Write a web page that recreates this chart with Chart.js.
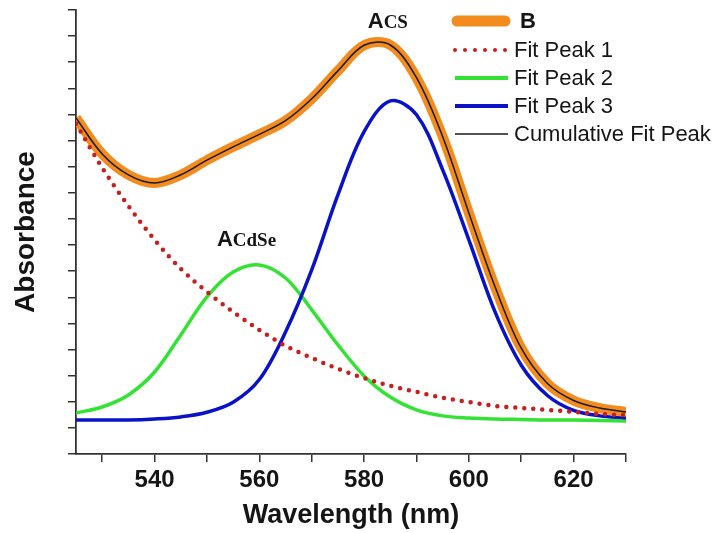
<!DOCTYPE html>
<html>
<head>
<meta charset="utf-8">
<script src="https://cdn.jsdelivr.net/npm/chart.js@4.4.1/dist/chart.umd.min.js"></script>
<style>
  html, body { margin: 0; padding: 0; background: #fff; }
  #wrap { width: 723px; height: 533px; }
</style>
</head>
<body>
<div id="wrap"><canvas id="absorbance-chart" width="723" height="533"></canvas></div>
<script>
// wavelength grid (nm) and values (arbitrary absorbance units)
const wavelengths = [525, 530, 535, 540, 545, 550, 555, 560, 565, 570, 575, 580, 585, 590, 595, 600, 605, 610, 615, 620, 625, 630];
const sampleB = [12.87, 11.49, 10.69, 10.38, 10.69, 11.25, 11.76, 12.24, 12.76, 13.60, 14.67, 15.65, 15.66, 14.41, 12.15, 9.23, 6.40, 4.05, 2.70, 2.05, 1.76, 1.61];
const fitPeak1 = [12.64, 10.96, 9.50, 8.20, 7.09, 6.21, 5.44, 4.75, 4.14, 3.68, 3.26, 2.91, 2.61, 2.38, 2.15, 1.99, 1.84, 1.76, 1.69, 1.61, 1.53, 1.49];
const fitPeak2 = [1.57, 1.80, 2.26, 3.14, 4.56, 6.02, 6.97, 7.24, 6.74, 5.52, 4.18, 2.99, 2.18, 1.69, 1.46, 1.38, 1.34, 1.32, 1.30, 1.30, 1.28, 1.26];
const fitPeak3 = [1.30, 1.30, 1.30, 1.34, 1.42, 1.60, 1.98, 2.85, 4.67, 7.05, 9.92, 12.34, 13.52, 12.99, 10.88, 8.20, 5.44, 3.40, 2.24, 1.67, 1.46, 1.38];
const cumulativeFit = [12.87, 11.49, 10.69, 10.38, 10.69, 11.25, 11.76, 12.24, 12.76, 13.60, 14.67, 15.65, 15.66, 14.41, 12.15, 9.23, 6.40, 4.05, 2.70, 2.05, 1.76, 1.61];

const xTicks = [530, 540, 550, 560, 570, 580, 590, 600, 610, 620, 630];
const yTicks = [0, 1, 2, 3, 4, 5, 6, 7, 8, 9, 10, 11, 12, 13, 14, 15, 16, 17];

const legendLabels = ["B", "Fit Peak 1", "Fit Peak 2", "Fit Peak 3", "Cumulative Fit Peak"];
const peakLabels = [
  { main: "A", sub: "CS", x: 580.7, y: 16.32 },
  { main: "A", sub: "CdSe", x: 551.9, y: 7.97 },
];

const COLORS = {
  b: "#F28C1E",
  p1: "#C81E1E",
  p2: "#33E333",
  p3: "#0A12C8",
  cum: "#1a1a1a",
  axis: "#333333",
  text: "#151515",
};

function toPoints(values) {
  return wavelengths.map((w, i) => ({ x: w, y: values[i] }));
}

const peakLabelPlugin = {
  id: "peakLabels",
  afterDatasetsDraw(chart) {
    const { ctx, scales } = chart;
    ctx.save();
    ctx.fillStyle = COLORS.text;
    ctx.textBaseline = "alphabetic";
    ctx.textAlign = "left";
    peakLabels.forEach((lab) => {
      const px = scales.x.getPixelForValue(lab.x);
      const py = scales.y.getPixelForValue(lab.y);
      ctx.font = "bold 22px 'Liberation Sans', Arial, sans-serif";
      ctx.fillText(lab.main, px, py);
      const w = ctx.measureText(lab.main).width;
      ctx.font = "bold 19px 'Liberation Serif', 'Times New Roman', serif";
      ctx.fillText(lab.sub, px + w, py);
    });
    ctx.restore();
  },
};

const legendPlugin = {
  id: "cornerLegend",
  afterDraw(chart) {
    const ctx = chart.ctx;
    const x0 = 455;
    const x1 = 507;
    const textX = 514;
    const rows = [21, 50, 78, 106, 134];
    ctx.save();
    ctx.lineCap = "round";

    // B
    ctx.strokeStyle = COLORS.b;
    ctx.lineWidth = 11;
    ctx.beginPath();
    ctx.moveTo(x0 + 2, rows[0]);
    ctx.lineTo(x1 - 2, rows[0]);
    ctx.stroke();

    // Fit Peak 1 dots
    ctx.fillStyle = COLORS.p1;
    for (let i = 0; i < 6; i++) {
      ctx.beginPath();
      ctx.arc(x0 + i * 10, rows[1], 2, 0, Math.PI * 2);
      ctx.fill();
    }

    ctx.lineCap = "butt";
    ctx.lineWidth = 4;
    ctx.strokeStyle = COLORS.p2;
    ctx.beginPath();
    ctx.moveTo(x0, rows[2]);
    ctx.lineTo(x1 + 1, rows[2]);
    ctx.stroke();

    ctx.strokeStyle = COLORS.p3;
    ctx.beginPath();
    ctx.moveTo(x0, rows[3]);
    ctx.lineTo(x1 + 1, rows[3]);
    ctx.stroke();

    ctx.lineWidth = 1.5;
    ctx.strokeStyle = COLORS.cum;
    ctx.beginPath();
    ctx.moveTo(x0, rows[4]);
    ctx.lineTo(x1 + 1, rows[4]);
    ctx.stroke();

    ctx.fillStyle = COLORS.text;
    ctx.textBaseline = "middle";
    ctx.textAlign = "left";
    legendLabels.forEach((label, i) => {
      ctx.font = i === 0
        ? "bold 22px 'Liberation Sans', Arial, sans-serif"
        : "22px 'Liberation Sans', Arial, sans-serif";
      ctx.fillText(label, i === 0 ? textX + 6 : textX, rows[i] + 1);
    });
    ctx.restore();
  },
};

const ctx = document.getElementById("absorbance-chart").getContext("2d");

new Chart(ctx, {
  type: "line",
  plugins: [peakLabelPlugin, legendPlugin],
  data: {
    datasets: [
      {
        label: "Cumulative Fit Peak",
        data: toPoints(cumulativeFit),
        borderColor: COLORS.cum,
        borderWidth: 1.5,
        order: 0,
      },
      {
        label: "Fit Peak 1",
        data: toPoints(fitPeak1),
        borderColor: COLORS.p1,
        borderWidth: 4.5,
        borderDash: [0, 9],
        borderCapStyle: "round",
        cubicInterpolationMode: "monotone",
        order: 1,
      },
      {
        label: "B",
        data: toPoints(sampleB),
        borderColor: COLORS.b,
        borderWidth: 10,
        order: 2,
      },
      {
        label: "Fit Peak 3",
        data: toPoints(fitPeak3),
        borderColor: COLORS.p3,
        borderWidth: 3.5,
        order: 3,
      },
      {
        label: "Fit Peak 2",
        data: toPoints(fitPeak2),
        borderColor: COLORS.p2,
        borderWidth: 3.5,
        order: 4,
      },
    ],
  },
  options: {
    responsive: false,
    animation: false,
    layout: { padding: { top: 10, right: 97, left: 0, bottom: 0 } },
    elements: {
      point: { radius: 0 },
      line: { tension: 0.35, fill: false },
    },
    plugins: {
      legend: { display: false },
      tooltip: { enabled: false },
    },
    scales: {
      x: {
        type: "linear",
        min: 525,
        max: 630,
        afterBuildTicks: (scale) => {
          scale.ticks = xTicks.map((v) => ({ value: v }));
        },
        afterFit: (scale) => {
          scale.height = 79;
        },
        grid: {
          drawOnChartArea: false,
          drawTicks: true,
          tickLength: 8,
          color: COLORS.axis,
          lineWidth: 1.5,
        },
        border: { display: true, color: COLORS.axis, width: 1.8 },
        ticks: {
          autoSkip: false,
          maxRotation: 0,
          padding: 4,
          color: COLORS.text,
          font: { family: "'Liberation Sans', Arial, sans-serif", size: 24, weight: "bold" },
          callback: (value) => (value % 20 === 0 ? String(value) : ""),
        },
        title: {
          display: true,
          text: "Wavelength (nm)",
          color: COLORS.text,
          padding: { top: 0, bottom: 1 },
          font: { family: "'Liberation Sans', Arial, sans-serif", size: 27, weight: "bold" },
        },
      },
      y: {
        type: "linear",
        min: 0,
        max: 17,
        afterBuildTicks: (scale) => {
          scale.ticks = yTicks.map((v) => ({ value: v }));
        },
        afterFit: (scale) => {
          scale.width = 76;
        },
        grid: {
          drawOnChartArea: false,
          drawTicks: true,
          tickLength: 8,
          color: COLORS.axis,
          lineWidth: 1.5,
        },
        border: { display: true, color: COLORS.axis, width: 1.8 },
        ticks: { display: false },
        title: {
          display: true,
          text: "Absorbance",
          color: COLORS.text,
          padding: { top: 9, bottom: 0 },
          font: { family: "'Liberation Sans', Arial, sans-serif", size: 28, weight: "bold" },
        },
      },
    },
  },
});
</script>
</body>
</html>
